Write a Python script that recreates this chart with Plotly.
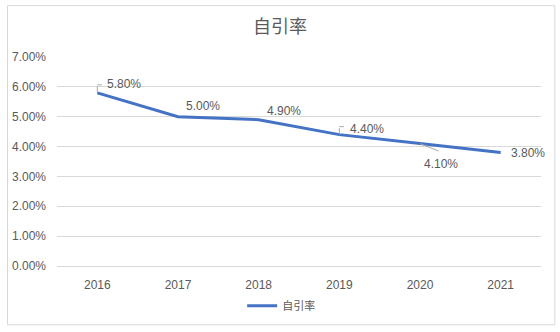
import plotly.graph_objects as go

# Self-citation rate by year
years = ["2016", "2017", "2018", "2019", "2020", "2021"]
rates = [5.80, 5.00, 4.90, 4.40, 4.10, 3.80]  # percent
y_ticks = [0, 1, 2, 3, 4, 5, 6, 7]
series_name = "自引率"

# Label placement (pixel offsets of the label centre from its point)
label_dx = [27, 25, 25, 28, 21, 27]
label_dy = [-9, -11, -9, -6, 20, 0]

GREY = "#595959"
BLUE = "#4472C4"
LATIN = "Liberation Sans, Arial, sans-serif"
CJK = "Noto Sans CJK SC, sans-serif"

fig = go.Figure()
fig.add_trace(go.Scatter(
    x=years, y=[r / 100 for r in rates], mode="lines", name=series_name,
    line=dict(color=BLUE, width=3), hoverinfo="skip",
))

annotations = []
for i, (r, dx, dy) in enumerate(zip(rates, label_dx, label_dy)):
    annotations.append(dict(
        x=i, y=r / 100, xref="x", yref="y", text=f"{r:.2f}%", showarrow=False,
        xshift=dx, yshift=-dy, font=dict(family=LATIN, size=12, color=GREY),
    ))

# Leader lines: small brackets for 2016 and 2019, slanted line for 2020
LEAD = dict(text="", showarrow=True, arrowhead=0, arrowwidth=1,
            arrowcolor="#A6A6A6", standoff=0, startstandoff=0,
            xref="x", yref="y")
for i in (0, 3):
    annotations.append(dict(x=i, y=rates[i] / 100, ax=0, ay=-8, **LEAD))
    annotations.append(dict(x=i, y=rates[i] / 100, yshift=8, ax=6, ay=0, **LEAD))
annotations.append(dict(x=4, y=rates[4] / 100, ax=20, ay=8, **LEAD))

fig.update_layout(
    width=560, height=332,
    margin=dict(l=52, r=19, t=57, b=64),
    paper_bgcolor="white", plot_bgcolor="white",
    title=dict(text=series_name, x=0.5, xanchor="center", y=1 - 27 / 332,
               yanchor="middle", font=dict(family=CJK, size=18, color=GREY)),
    showlegend=True,
    legend=dict(orientation="h", x=0.5 - 18 / 489, xanchor="center", y=-0.19,
                yanchor="middle", font=dict(family=CJK, size=11, color=GREY),
                itemwidth=30),
    annotations=annotations,
    shapes=[dict(type="rect", xref="paper", yref="paper",
                 x0=-50 / 489, x1=1 + 14 / 489, y0=-(328 - 268.5) / 211.5,
                 y1=1 + (57 - 5) / 211.5,
                 line=dict(color="#D9D9D9", width=1), layer="below")],
)
fig.update_xaxes(
    type="category", range=[-0.5, 5.5], showgrid=False,
    showline=True, linecolor="#D9D9D9", linewidth=1, ticks="",
    tickfont=dict(family=LATIN, size=12, color=GREY), ticklabelstandoff=8,
)
fig.update_yaxes(
    range=[0, 0.07], tickvals=[t / 100 for t in y_ticks],
    ticktext=[f"{t:.2f}%" for t in y_ticks],
    showgrid=True, gridcolor="#D9D9D9", gridwidth=1, zeroline=False,
    showline=False, ticks="", ticklabelstandoff=10,
    tickfont=dict(family=LATIN, size=12, color=GREY),
)

fig.write_html("out.html")
